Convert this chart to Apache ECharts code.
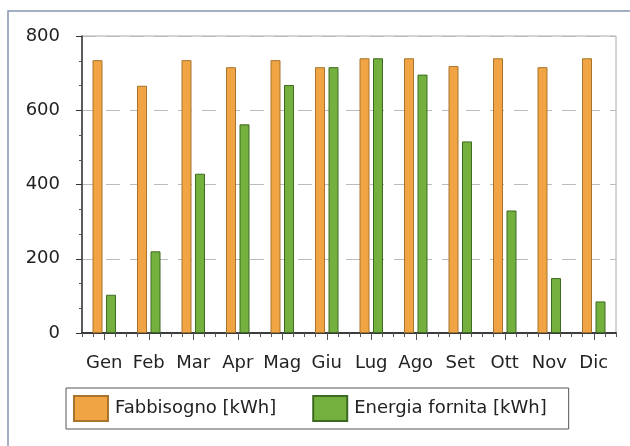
<!DOCTYPE html>
<html>
<head>
<meta charset="utf-8">
<script src="https://cdn.jsdelivr.net/npm/echarts@6/dist/echarts.min.js"></script>
<style>
  html, body { margin: 0; padding: 0; background: #fff; }
  #chart { width: 630px; height: 446px; }
</style>
</head>
<body>
<div id="chart"></div>
<script>
// mesi e valori
var months = ["Gen", "Feb", "Mar", "Apr", "Mag", "Giu", "Lug", "Ago", "Set", "Ott", "Nov", "Dic"];
var fabbisogno = [735, 666, 735, 716, 735, 716, 740, 740, 719, 740, 716, 740];
var energiaFornita = [103, 220, 429, 562, 668, 716, 740, 696, 516, 330, 148, 85];
var yTicks = [0, 200, 400, 600, 800];

var myChart = echarts.init(document.getElementById("chart"));
myChart.setOption({
  backgroundColor: "#fff",
  animation: false,
  textStyle: { fontFamily: "DejaVu Sans" },
  graphic: [
    {
      type: "rect",
      shape: { x: 8, y: 11, width: 640, height: 460 },
      style: { fill: "none", stroke: "#8795b0", lineWidth: 1.5 },
    },
  ],
  grid: {
    left: 82,
    right: 14,
    top: 36,
    bottom: 113,
    show: true,
    borderColor: "#aaa",
    borderWidth: 1,
  },
  legend: {
    left: 66,
    top: 388,
    width: 514,
    padding: [7, 22, 7, 7],
    icon: "rect",
    itemWidth: 34,
    itemHeight: 25,
    itemGap: 36,
    borderColor: "#555",
    borderWidth: 1,
    borderRadius: 0,
    textStyle: { fontSize: 18, color: "#222", padding: [0, 0, 0, 2] },
    data: ["Fabbisogno [kWh]", "Energia fornita [kWh]"],
  },
  xAxis: [
    {
      type: "category",
      data: months,
      axisLine: { lineStyle: { color: "#333", width: 1.5 } },
      axisTick: { show: true, alignWithLabel: true, length: 7, lineStyle: { color: "#555" } },
      axisLabel: { interval: 0, fontSize: 18, color: "#222", margin: 21 },
    },
    {
      // solo per le tacche secondarie
      type: "value",
      position: "bottom",
      min: 0,
      max: 12,
      interval: 1,
      axisLine: { show: true, onZero: false, lineStyle: { color: "#333", width: 1.5 } },
      axisTick: { show: true, length: 4, lineStyle: { color: "#555" } },
      minorTick: { show: true, splitNumber: 4, length: 4, lineStyle: { color: "#555" } },
      axisLabel: { show: false },
      splitLine: { show: false },
    },
  ],
  yAxis: {
    type: "value",
    min: yTicks[0],
    max: yTicks[yTicks.length - 1],
    interval: 200,
    axisLine: { show: true, lineStyle: { color: "#333", width: 1.5 } },
    axisTick: { show: true, length: 6, lineStyle: { color: "#333" } },
    minorTick: { show: true, splitNumber: 3, length: 3, lineStyle: { color: "#555" } },
    axisLabel: { fontSize: 18, color: "#222", margin: 22 },
    splitLine: { show: true, lineStyle: { color: "#bbb", type: [14, 10] } },
  },
  series: [
    {
      name: "Fabbisogno [kWh]",
      type: "bar",
      data: fabbisogno,
      barWidth: 10,
      barGap: "35%",
      itemStyle: { color: "#f0a444", borderColor: "#a8742c", borderWidth: 1 },
    },
    {
      name: "Energia fornita [kWh]",
      type: "bar",
      data: energiaFornita,
      barWidth: 10,
      itemStyle: { color: "#74b03e", borderColor: "#3d6a22", borderWidth: 1 },
    },
    {
      // serie vuota per attivare l'asse delle tacche secondarie
      type: "line",
      xAxisIndex: 1,
      silent: true,
      showSymbol: false,
      data: [],
    },
  ],
});
</script>
</body>
</html>
